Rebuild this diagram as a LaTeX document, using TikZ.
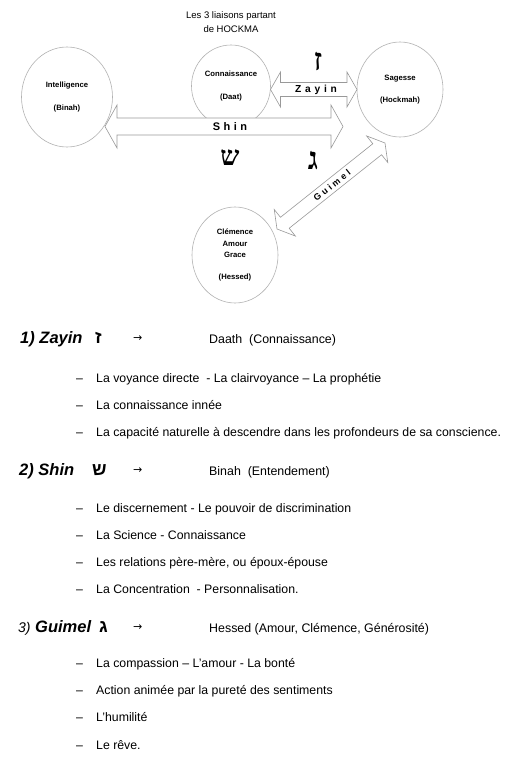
\documentclass[tikz,border=0pt]{standalone}
\usepackage{fontspec}
\setmainfont{Liberation Sans}
\newfontfamily\hebsans[Script=Hebrew]{Liberation Sans}
\newfontfamily\hebserif[Script=Hebrew]{Liberation Serif}
\newfontfamily\symfont{DejaVu Sans}
\usetikzlibrary{calc,shapes.geometric}
\definecolor{circgray}{gray}{0.70}
\definecolor{arrgray}{gray}{0.60}
\tikzset{
  sefira/.style={ellipse, draw=circgray, line width=0.6pt, fill=white, inner sep=0pt,
    align=center, font=\fontsize{7.7}{11.5}\selectfont\bfseries},
  blockarrow/.style args={#1/#2/#3}{draw=arrgray, fill=white, line width=0.6pt, line join=miter,
    to path={
      -- ($($(\tikztostart)!#1!(\tikztotarget)$)!#2!90:(\tikztotarget)$)
      -- ($($(\tikztostart)!#1!(\tikztotarget)$)!#3!90:(\tikztotarget)$)
      -- ($($(\tikztotarget)!#1!(\tikztostart)$)!#3!-90:(\tikztostart)$)
      -- ($($(\tikztotarget)!#1!(\tikztostart)$)!#2!-90:(\tikztostart)$)
      -- (\tikztotarget)
      -- ($($(\tikztotarget)!#1!(\tikztostart)$)!#2!90:(\tikztostart)$)
      -- ($($(\tikztotarget)!#1!(\tikztostart)$)!#3!90:(\tikztostart)$)
      -- ($($(\tikztostart)!#1!(\tikztotarget)$)!#3!-90:(\tikztotarget)$)
      -- ($($(\tikztostart)!#1!(\tikztotarget)$)!#2!-90:(\tikztotarget)$)
      -- cycle}},
  arrlabel/.style={inner sep=0pt, font=\fontsize{10.2}{12}\selectfont\bfseries},
  hebbig/.style={inner sep=0pt, font=\fontsize{31}{33}\selectfont\hebserif\bfseries},
  hdr/.style={inner sep=0pt, anchor=base west, font=\fontsize{16.5}{18}\selectfont\bfseries\itshape},
  hebsmall/.style={inner sep=0pt, anchor=base west, font=\fontsize{18}{20}\selectfont\hebsans\bfseries},
  arrsym/.style={inner sep=0pt, anchor=base west, font=\fontsize{11}{13}\selectfont\symfont},
  target/.style={inner sep=0pt, anchor=base west, font=\fontsize{12.4}{14}\selectfont},
  itemdash/.style={inner sep=0pt, anchor=base west, font=\fontsize{12.3}{14}\selectfont},
  itemtext/.style={inner sep=0pt, anchor=base west, font=\fontsize{12.3}{14}\selectfont},
}
\newcommand{\spc}[1]{\hspace{#1}}
\begin{document}
\begin{tikzpicture}[x=1pt,y=-1pt]
\useasboundingbox (0,0) rectangle (511,768);
\fill[white] (0,0) rectangle (511,768);

% title
\node[inner sep=0pt, align=center, font=\fontsize{9.5}{14}\selectfont] (title) at (231,22)
  {Les 3 liaisons partant\\de HOCKMA};

% sefirot
\node[sefira, minimum width=91pt, minimum height=100pt] (binah) at (67,97)
  {Intelligence\\[11pt](Binah)};
\node[sefira, minimum width=79pt, minimum height=82pt] (daat) at (231,86)
  {Connaissance\\[11pt](Daat)};
\node[sefira, minimum width=86pt, minimum height=95pt] (hock) at (400,89.5)
  {Sagesse\\[11pt](Hockmah)};
\node[sefira, minimum width=86pt, minimum height=96pt] (hessed) at (235,255)
  {Clémence\\Amour\\Grace\\[10pt](Hessed)};

% arrow end points
\coordinate (zA) at (270.5,89.5);
\coordinate (zB) at (357,89.5);
\coordinate (sA) at (105,126.5);
\coordinate (sB) at (343,126.5);
\coordinate (gA) at (277,229);
\coordinate (gB) at (385,143);

\draw[blockarrow={10pt/17.5pt/7pt}] (zA) to (zB);
\draw[blockarrow={12pt/21.5pt/8.5pt}] (sA) to (sB);
\draw[blockarrow={10pt/17pt/7pt}] (gA) to (gB);

% arrow labels
\node[arrlabel] (zlab) at (316,90) {Z\spc{3.8pt}a\spc{3.8pt}y\spc{3.8pt}i\spc{3.8pt}n};
\node[arrlabel, font=\fontsize{11}{12}\selectfont\bfseries] (slab) at (230,127)
  {S\spc{3.5pt}h\spc{3.5pt}i\spc{3.5pt}n};
\node[arrlabel, font=\fontsize{9}{10}\selectfont\bfseries, rotate=38.5] (glab) at (332,185.5)
  {G\spc{2.8pt}u\spc{2.8pt}i\spc{2.8pt}m\spc{2.8pt}e\spc{2.8pt}l};

% hebrew letters
\node[hebbig] (zayinL) at (318,62) {ז};
\node[hebbig, font=\fontsize{27}{29}\selectfont\hebserif\bfseries] (shinL) at (230,158) {ש};
\node[hebbig] (guimelL) at (313,161) {ג};

% list 1
\node[hdr] (h1) at (20,343) {1) Zayin};
\node[hebsmall] (h1l) at (95,343) {ז};
\node[arrsym] (h1a) at (133,341) {→};
\node[target] (h1t) at (209,343) {Daath\ \ (Connaissance)};
\node[itemdash] (d11) at (76,382) {–};
\node[itemtext] (t11) at (96,382) {La voyance directe\ \ - La clairvoyance – La prophétie};
\node[itemdash] (d12) at (76,409) {–};
\node[itemtext] (t12) at (96,409) {La connaissance innée};
\node[itemdash] (d13) at (76,436) {–};
\node[itemtext] (t13) at (96,436) {La capacité naturelle à descendre dans les profondeurs de sa conscience.};

% list 2
\node[hdr] (h2) at (19,475) {2) Shin};
\node[hebsmall] (h2l) at (92,475) {ש};
\node[arrsym] (h2a) at (133,473) {→};
\node[target] (h2t) at (209,475) {Binah\ \ (Entendement)};
\node[itemdash] (d21) at (76,512) {–};
\node[itemtext] (t21) at (96,512) {Le discernement - Le pouvoir de discrimination};
\node[itemdash] (d22) at (76,539) {–};
\node[itemtext] (t22) at (96,539) {La Science - Connaissance};
\node[itemdash] (d23) at (76,566) {–};
\node[itemtext] (t23) at (96,566) {Les relations père-mère, ou époux-épouse};
\node[itemdash] (d24) at (76,593) {–};
\node[itemtext] (t24) at (96,593) {La Concentration\ \ - Personnalisation.};

% list 3
\node[hdr] (h3) at (18,632) {{\mdseries\fontsize{14}{16}\selectfont 3)} Guimel};
\node[hebsmall] (h3l) at (99,632) {ג};
\node[arrsym] (h3a) at (133,630) {→};
\node[target] (h3t) at (209,632) {Hessed (Amour, Clémence, Générosité)};
\node[itemdash] (d31) at (76,667) {–};
\node[itemtext] (t31) at (96,667) {La compassion – L’amour - La bonté};
\node[itemdash] (d32) at (76,694) {–};
\node[itemtext] (t32) at (96,694) {Action animée par la pureté des sentiments};
\node[itemdash] (d33) at (76,721) {–};
\node[itemtext] (t33) at (96,721) {L’humilité};
\node[itemdash] (d34) at (76,749) {–};
\node[itemtext] (t34) at (96,749) {Le rêve.};
\end{tikzpicture}
\end{document}
